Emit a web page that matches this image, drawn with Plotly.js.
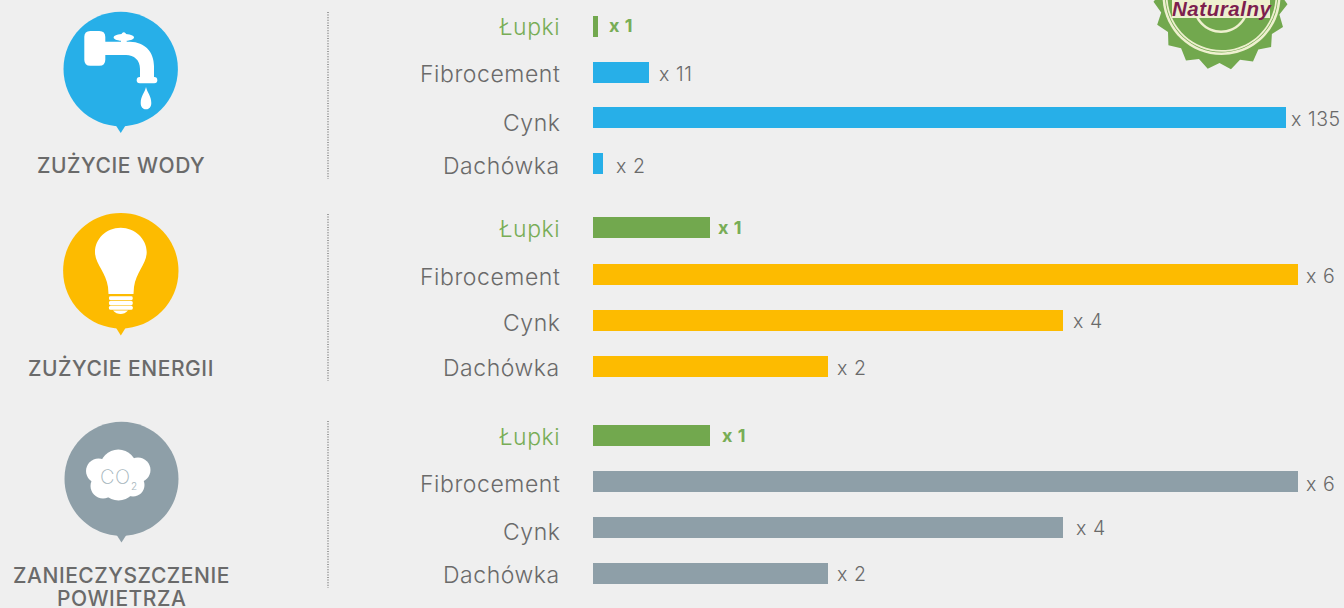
<!DOCTYPE html>
<html><head><meta charset="utf-8">
<script src="https://cdn.plot.ly/plotly-3.0.1.min.js"></script>
<style>html,body{margin:0;padding:0;background:#efefef;overflow:hidden}
.annotation-text{letter-spacing:.55px}</style>
</head><body><div id="chart" style="width:1344px;height:608px"></div>
<script>
const categories = ['Łupki','Fibrocement','Cynk','Dachówka'];
const waterValues = [1,11,135,2];
const energyValues = [1,6,4,2];
const airValues = [1,6,4,2];
const panelTitles = ['ZUŻYCIE WODY','ZUŻYCIE ENERGII','ZANIECZYSZCZENIE','POWIETRZA'];

const W=1344,H=608, FONT='Inter, "Noto Sans", sans-serif';
const GREEN='#72a84e',BLUE='#27afe8',YELLOW='#fdbb00',SLATE='#8e9fa8',TEXT='#6a6a6a',CREAM='#eef0cf';
const X0=592.5;
// layout of the panels, in pixels
const panels=[
 {vals:waterValues,color:BLUE,first:26.5,step:45.67,ppu:5.14,
  lab:[27,74,123,166],val:[26,74,119,166],nudge:[10,9,4,12]},
 {vals:energyValues,color:YELLOW,first:227.8,step:46.33,ppu:117.6,
  lab:[229,277,323,368],val:[227,276,321,368],nudge:[7,7,9,8]},
 {vals:airValues,color:SLATE,first:435.5,step:46,ppu:117.6,
  lab:[437,484,532,575],val:[435,484,528,574],nudge:[11,7,12,8]}
];
const fx=x=>x/W, fy=y=>1-y/H;
// turn a path written in page pixels into paper coordinates
const P=s=>s.replace(/(-?[\d.]+)[ ,]+(-?[\d.]+)/g,(m,a,b)=>fx(+a).toFixed(5)+','+fy(+b).toFixed(5));
const shp=(d,fill)=>({type:'path',xref:'paper',yref:'paper',path:P(d),fillcolor:fill,line:{width:0}});
const K=0.5523;
const circ=(cx,cy,r)=>{const k=K*r;return `M ${cx-r} ${cy} C ${cx-r} ${cy-k} ${cx-k} ${cy-r} ${cx} ${cy-r} C ${cx+k} ${cy-r} ${cx+r} ${cy-k} ${cx+r} ${cy} C ${cx+r} ${cy+k} ${cx+k} ${cy+r} ${cx} ${cy+r} C ${cx-k} ${cy+r} ${cx-r} ${cy+k} ${cx-r} ${cy} Z`;};
const ell=(cx,cy,rx,ry)=>{const a=K*rx,b=K*ry;return `M ${cx-rx} ${cy} C ${cx-rx} ${cy-b} ${cx-a} ${cy-ry} ${cx} ${cy-ry} C ${cx+a} ${cy-ry} ${cx+rx} ${cy-b} ${cx+rx} ${cy} C ${cx+rx} ${cy+b} ${cx+a} ${cy+ry} ${cx} ${cy+ry} C ${cx-a} ${cy+ry} ${cx-rx} ${cy+b} ${cx-rx} ${cy} Z`;};
const rrect=(x0,y0,x1,y1,r)=>`M ${x0+r} ${y0} L ${x1-r} ${y0} Q ${x1} ${y0} ${x1} ${y0+r} L ${x1} ${y1-r} Q ${x1} ${y1} ${x1-r} ${y1} L ${x0+r} ${y1} Q ${x0} ${y1} ${x0} ${y1-r} L ${x0} ${y0+r} Q ${x0} ${y0} ${x0+r} ${y0} Z`;
const pin=(cx,cy,r,tip,fill)=>[shp(circ(cx,cy,r),fill),shp(`M ${cx-5} ${cy+r-1} L ${cx+5} ${cy+r-1} L ${cx} ${tip} Z`,fill)];

const shapes=[];
// water icon
shapes.push(...pin(120.7,69,57.2,133,BLUE));
shapes.push(shp(rrect(84.3,31,105.3,65.7,6),'#fff'));
shapes.push(shp('M 104 41.7 L 130 41.7 C 145 42 154 52 154 66 L 154 78 L 140 78 L 140 69 C 140 60 134 55 126 55 L 104 55 Z','#fff'));
shapes.push(shp(rrect(136.7,77,157.3,83.3,3),'#fff'));
shapes.push(shp(ell(123.8,37.4,10.2,3.4),'#fff'));
shapes.push(shp(circ(123.8,34.5,2.2),'#fff'));
shapes.push(shp('M 121 37 L 126.7 37 L 126.7 43 L 121 43 Z','#fff'));
shapes.push(shp('M 146 87 C 147 92 151.3 96 151.3 103 C 151.3 107 149 109.3 146 109.3 C 143 109.3 140.7 107 140.7 103 C 140.7 96 145 92 146 87 Z','#fff'));
// energy icon
shapes.push(...pin(120.8,270.8,57.7,335.5,YELLOW));
shapes.push(shp('M 120.7 227.7 C 135 227.7 146.7 239 146.7 252 C 146.7 264 136 272 134 287 L 133.5 294 L 108.5 294 L 108 287 C 106 272 95 264 95 252 C 95 239 106 227.7 120.7 227.7 Z','#fff'));
shapes.push(shp(rrect(109,296.3,132.7,300.3,1.5),'#fff'));
shapes.push(shp(rrect(109,301,132.7,305.2,1.5),'#fff'));
shapes.push(shp(rrect(109,305.8,132.7,309.8,1.5),'#fff'));
shapes.push(shp('M 113 310.5 L 128 310.5 C 126 313 123 314 120.7 314 C 118 314 115 313 113 310.5 Z','#fff'));
// air icon
shapes.push(...pin(121.5,478.8,57,542.5,SLATE));
[[118.3,468,18.5],[98.5,471,12.5],[138,470,12.5],[103,486,12.5],[133,485,11.5],[118.5,482,18.5]]
 .forEach(c=>shapes.push(shp(circ(c[0],c[1],c[2]),'#fff')));
// dotted separators
[[12,179],[214,381],[421,588]].forEach(s=>{
 shapes.push({type:'line',xref:'paper',yref:'paper',x0:fx(328),x1:fx(328),y0:fy(s[0]),y1:fy(s[1]),line:{color:'#8a8a8a',width:1.6,dash:'1px,1.6px'}});
});
// badge
let star='';const bx=1220.5,by=3,rx=1221.5,ry=-4;
for(let i=0;i<18;i++){
 const a=(1+20*i)*Math.PI/180,b=(11+20*i)*Math.PI/180;
 star+=`${i?'L':'M'} ${(bx+67*Math.cos(a)).toFixed(1)} ${(by+67*Math.sin(a)).toFixed(1)} L ${(bx+60*Math.cos(b)).toFixed(1)} ${(by+60*Math.sin(b)).toFixed(1)} `;
}
shapes.push(shp(star+'Z',GREEN));
shapes.push(shp(circ(rx,ry,59),CREAM));
shapes.push(shp(circ(rx,ry,56.5),GREEN));
shapes.push(shp(circ(rx,ry,55.8),CREAM));
shapes.push(shp(circ(rx,ry,54),GREEN));
shapes.push(shp(circ(1221,5,28),CREAM));
shapes.push(shp(circ(1221,5,25.5),GREEN));
shapes.push(shp('M 1172 -5 L 1270 -5 L 1270 18 L 1172 18 Z',CREAM));

const layout={width:W,height:H,margin:{l:0,r:0,t:0,b:0,pad:0},paper_bgcolor:'#efefef',plot_bgcolor:'rgba(0,0,0,0)',showlegend:false,bargap:0,shapes,annotations:[],font:{family:FONT,color:TEXT}};
const data=[];
const note=(o)=>layout.annotations.push(Object.assign({showarrow:false,xref:'paper',yref:'paper',xanchor:'center',yanchor:'middle'},o));
const AXR=1344-X0;
panels.forEach((p,i)=>{
 const n=i?i+1:'', xa='xaxis'+n, ya='yaxis'+n, xr='x'+n, yr='y'+n;
 data.push({type:'bar',orientation:'h',x:p.vals,y:categories,xaxis:xr,yaxis:yr,width:21/p.step,
  marker:{color:categories.map((c,k)=>k===0?GREEN:p.color),line:{width:0}},hoverinfo:'x+y'});
 layout[xa]={domain:[fx(X0),1],range:[0,AXR/p.ppu],visible:false,fixedrange:true};
 const top=p.first-p.step/2,bot=top+p.step*4;
 layout[ya]={domain:[Math.max(0,fy(bot)),fy(top)],type:'category',categoryorder:'array',categoryarray:categories,range:[3.5,-0.5],visible:false,fixedrange:true,anchor:xr};
 categories.forEach((c,k)=>{
  const center=p.first+k*p.step;
  note({x:fx(562),xanchor:'right',y:c,yref:yr,yshift:center-p.lab[k]-0.35,text:c,
    font:{family:FONT,size:23,color:k===0?'#78ad56':TEXT,weight:300}});
  note({x:p.vals[k],xref:xr,xanchor:'left',xshift:p.nudge[k]-1,y:c,yref:yr,yshift:center-p.val[k],text:'x '+p.vals[k],
    font:{family:FONT,size:k===0?18:19.5,color:k===0?'#78ad56':TEXT,weight:k===0?700:300}});
 });
});
// panel titles
const titleFont={family:FONT,size:21,color:TEXT,weight:500};
[[120.5,165],[120.5,368],[121.5,575],[121,598.5]].forEach((q,i)=>note({x:fx(q[0]),y:fy(q[1]),text:panelTitles[i],font:titleFont}));
// icon and badge text
note({x:fx(115.5),y:fy(477),text:'CO',font:{family:FONT,size:20,color:'#a5b5bc',weight:200}});
note({x:fx(134),y:fy(486),text:'2',font:{family:FONT,size:10,color:'#a5b5bc',weight:300}});
note({x:fx(1222),y:fy(8),text:'Naturalny',font:{family:'"Liberation Sans",sans-serif',size:20.5,color:'#7d1f4f',style:'italic',weight:700}});

Plotly.newPlot('chart',data,layout,{displayModeBar:false,staticPlot:true});
</script></body></html>
